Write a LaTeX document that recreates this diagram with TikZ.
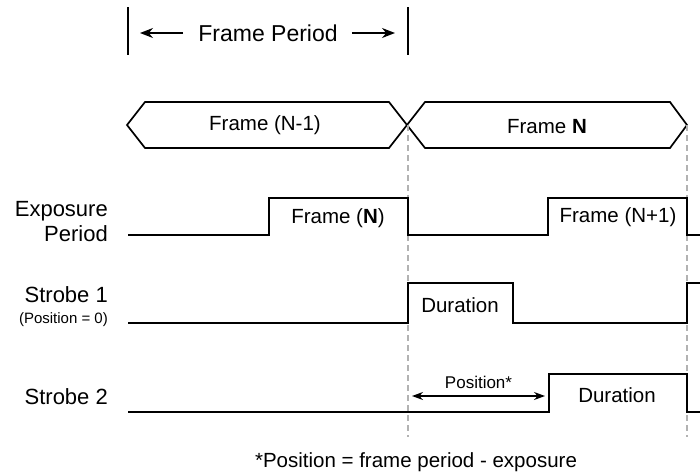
\documentclass[tikz,border=0pt]{standalone}
\usepackage{fontspec}
\setmainfont{Liberation Sans}
\usetikzlibrary{arrows.meta,positioning}

\begin{document}
\begin{tikzpicture}[x=1pt, y=-1pt, >={Stealth[length=13pt,width=10pt]},
  every node/.style={inner sep=0pt, font=\fontsize{20.5}{24}\selectfont},
  wave/.style={line width=1.7pt, line join=miter},
  guide/.style={gray!60, line width=1.3pt, dash pattern=on 6pt off 4pt},
  signame/.style={anchor=east, align=right, font=\fontsize{22}{25}\selectfont}]
\useasboundingbox (0,0) rectangle (700,474);

% frame period marker
\draw[line width=1.4pt] (128,7) -- (128,55);
\draw[line width=1.4pt] (408,7) -- (408,55);
\node (period) at (268,33) {\fontsize{23}{26}\selectfont Frame Period};
\coordinate (tipL) at (140,33);
\coordinate (tipR) at (395,33);
\draw[->, line width=1.4pt] ([xshift=-15pt]period.west) -- (tipL);
\draw[->, line width=1.4pt] ([xshift=14pt]period.east) -- (tipR);

% frame bus
\draw[wave] (127,125) -- (145,102) -- (389,102) -- (425,148) -- (670,148) -- (687,125)
  -- (670,102) -- (425,102) -- (389,148) -- (145,148) -- cycle;
\node (fprev) at (265,125) {Frame (N-1)};
\node (fcur) at (547,127) {Frame \textbf{N}};

% frame boundaries
\draw[guide] (408,125) -- (408,437);
\draw[guide] (687,125) -- (687,437);

% signal names
\node[signame] (exp) at (108,222) {Exposure\\Period};
\node[signame] (strA) at (108,295) {Strobe 1};
\node[signame, font=\fontsize{15}{18}\selectfont] (strApos) at (108,320) {(Position = 0)};
\node[signame] (strB) at (108,397) {Strobe 2};

% exposure
\draw[wave] (128,235) -- (269,235) -- (269,198) -- (408,198) -- (408,235) -- (548,235)
  -- (548,198) -- (687,198) -- (687,235) -- (700,235);
\node (expN) at (338,218) {Frame (\textbf{N})};
\node (expNext) at (618,217) {Frame (N+1)};

% strobe 1
\draw[wave] (128,323) -- (408,323) -- (408,283) -- (513,283) -- (513,323) -- (687,323)
  -- (687,283) -- (700,283);
\node (durA) at (460,305) {Duration};

% strobe 2
\draw[wave] (128,412) -- (549,412) -- (549,374) -- (687,374) -- (687,412) -- (700,412);
\node (durB) at (617,395) {Duration};
\coordinate (posL) at (412,396);
\coordinate (posR) at (545,396);
\draw[{Stealth[length=11pt,width=8pt]}-{Stealth[length=11pt,width=8pt]}, line width=1.2pt] (posL) -- (posR)
  node[midway, above=7pt, font=\fontsize{17}{20}\selectfont] (posTxt) {Position*};

\node (note) at (416,462) {*Position = frame period - exposure};
\end{tikzpicture}
\end{document}
